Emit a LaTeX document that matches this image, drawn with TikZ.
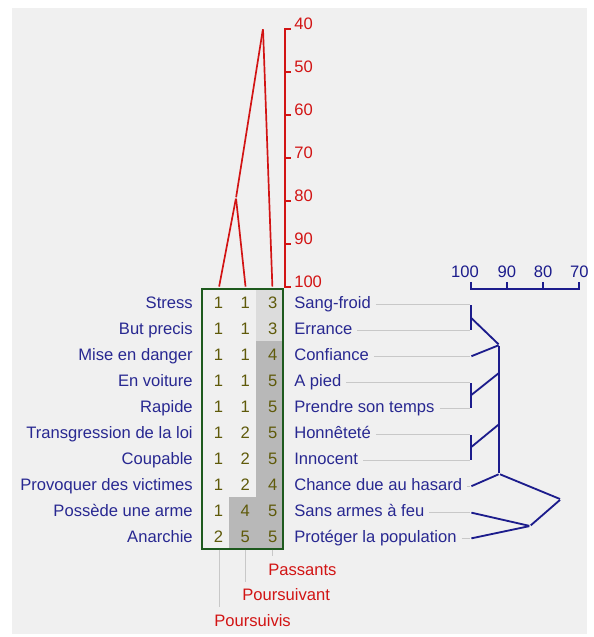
\documentclass[tikz,border=0pt]{standalone}
\usepackage{fontspec}
\setmainfont{Liberation Sans}
\usepackage{tikz}
\pgfdeclarelayer{bglayer}
\pgfdeclarelayer{nodelayer}
\pgfdeclarelayer{edgelayer}
\pgfsetlayers{bglayer,edgelayer,nodelayer,main}
\definecolor{panelgrey}{RGB}{240,240,240}
\definecolor{guidegrey}{RGB}{200,200,200}
\definecolor{cellsoft}{RGB}{220,220,220}
\definecolor{celldark}{RGB}{184,184,184}
\definecolor{navytext}{RGB}{40,40,145}
\definecolor{treeblue}{RGB}{28,28,140}
\definecolor{treered}{RGB}{210,20,20}
\definecolor{scoretext}{RGB}{95,90,10}
\definecolor{boxgreen}{RGB}{30,90,30}
\tikzstyle{none}=[inner sep=0pt, outer sep=0pt]
\tikzstyle{base text}=[font=\fontsize{11.8}{14}\selectfont, inner sep=0pt, text height=0.3cm, text depth=0.09cm]
\tikzstyle{left label}=[base text, text=navytext, anchor=east]
\tikzstyle{right label}=[base text, text=navytext, anchor=west]
\tikzstyle{group label}=[base text, text=treered, anchor=west]
\tikzstyle{score}=[base text, text=scoretext]
\tikzstyle{red scale}=[font=\fontsize{11.8}{14}\selectfont, inner sep=0pt, text=treered, anchor=base west]
\tikzstyle{blue scale}=[font=\fontsize{11.8}{14}\selectfont, inner sep=0pt, text=treeblue, anchor=base]
\tikzstyle{leader}=[draw=guidegrey, line width=0.6pt, shorten <=0.12cm]
\tikzstyle{guide}=[draw=guidegrey, line width=0.6pt]
\tikzstyle{red edge}=[draw=treered, line width=1.2pt]
\tikzstyle{blue edge}=[draw=treeblue, line width=1.3pt]
\tikzstyle{grid box}=[draw=boxgreen, line width=1.4pt]

\begin{document}
\begin{tikzpicture}
	\useasboundingbox (0, 0) rectangle (14.85, 15.925);
	\begin{pgfonlayer}{bglayer}
		\fill [panelgrey] (0.3, 0.075) rectangle (14.667, 15.725);
		\fill [cellsoft] (6.4, 8.7) rectangle (7.05, 7.4);
		\fill [celldark] (6.4, 7.4) rectangle (7.05, 2.2);
		\fill [celldark] (5.725, 3.5) rectangle (6.4, 2.2);
	\end{pgfonlayer}
	\begin{pgfonlayer}{nodelayer}
		% row names, left
		\node [style=left label] (0) at (4.825, 8.3125) {Stress};
		\node [style=left label] (1) at (4.825, 7.6625) {But precis};
		\node [style=left label] (2) at (4.825, 7.0125) {Mise en danger};
		\node [style=left label] (3) at (4.825, 6.3625) {En voiture};
		\node [style=left label] (4) at (4.825, 5.7125) {Rapide};
		\node [style=left label] (5) at (4.825, 5.0625) {Transgression de la loi};
		\node [style=left label] (6) at (4.825, 4.4125) {Coupable};
		\node [style=left label] (7) at (4.825, 3.7625) {Provoquer des victimes};
		\node [style=left label] (8) at (4.825, 3.1125) {Possède une arme};
		\node [style=left label] (9) at (4.825, 2.4625) {Anarchie};
		% row names, right
		\node [style=right label] (10) at (7.35, 8.3125) {Sang-froid};
		\node [style=right label] (11) at (7.35, 7.6625) {Errance};
		\node [style=right label] (12) at (7.35, 7.0125) {Confiance};
		\node [style=right label] (13) at (7.35, 6.3625) {A pied};
		\node [style=right label] (14) at (7.35, 5.7125) {Prendre son temps};
		\node [style=right label] (15) at (7.35, 5.0625) {Honnêteté};
		\node [style=right label] (16) at (7.35, 4.4125) {Innocent};
		\node [style=right label] (17) at (7.35, 3.7625) {Chance due au hasard};
		\node [style=right label] (18) at (7.35, 3.1125) {Sans armes à feu};
		\node [style=right label] (19) at (7.35, 2.4625) {Protéger la population};
		\node [style=none] (20) at (11.7675, 8.3125) {};
		\node [style=none] (21) at (11.7675, 7.6625) {};
		\node [style=none] (22) at (11.7675, 7.0125) {};
		\node [style=none] (23) at (11.7675, 6.3625) {};
		\node [style=none] (24) at (11.7675, 5.7125) {};
		\node [style=none] (25) at (11.7675, 5.0625) {};
		\node [style=none] (26) at (11.7675, 4.4125) {};
		\node [style=none] (27) at (11.7675, 3.7625) {};
		\node [style=none] (28) at (11.7675, 3.1125) {};
		\node [style=none] (29) at (11.7675, 2.4625) {};
		% scores
		\node [style=score] (30) at (5.46, 8.3125) {1};
		\node [style=score] (31) at (6.13, 8.3125) {1};
		\node [style=score] (32) at (6.82, 8.3125) {3};
		\node [style=score] (33) at (5.46, 7.6625) {1};
		\node [style=score] (34) at (6.13, 7.6625) {1};
		\node [style=score] (35) at (6.82, 7.6625) {3};
		\node [style=score] (36) at (5.46, 7.0125) {1};
		\node [style=score] (37) at (6.13, 7.0125) {1};
		\node [style=score] (38) at (6.82, 7.0125) {4};
		\node [style=score] (39) at (5.46, 6.3625) {1};
		\node [style=score] (40) at (6.13, 6.3625) {1};
		\node [style=score] (41) at (6.82, 6.3625) {5};
		\node [style=score] (42) at (5.46, 5.7125) {1};
		\node [style=score] (43) at (6.13, 5.7125) {1};
		\node [style=score] (44) at (6.82, 5.7125) {5};
		\node [style=score] (45) at (5.46, 5.0625) {1};
		\node [style=score] (46) at (6.13, 5.0625) {2};
		\node [style=score] (47) at (6.82, 5.0625) {5};
		\node [style=score] (48) at (5.46, 4.4125) {1};
		\node [style=score] (49) at (6.13, 4.4125) {2};
		\node [style=score] (50) at (6.82, 4.4125) {5};
		\node [style=score] (51) at (5.46, 3.7625) {1};
		\node [style=score] (52) at (6.13, 3.7625) {2};
		\node [style=score] (53) at (6.82, 3.7625) {4};
		\node [style=score] (54) at (5.46, 3.1125) {1};
		\node [style=score] (55) at (6.13, 3.1125) {4};
		\node [style=score] (56) at (6.82, 3.1125) {5};
		\node [style=score] (57) at (5.46, 2.4625) {2};
		\node [style=score] (58) at (6.13, 2.4625) {5};
		\node [style=score] (59) at (6.82, 2.4625) {5};
		% red scale
		\node [style=red scale] (60) at (7.35, 15.1925) {40};
		\node [style=red scale] (61) at (7.35, 14.1175) {50};
		\node [style=red scale] (62) at (7.35, 13.0425) {60};
		\node [style=red scale] (63) at (7.35, 11.9675) {70};
		\node [style=red scale] (64) at (7.35, 10.8925) {80};
		\node [style=red scale] (65) at (7.35, 9.8175) {90};
		\node [style=red scale] (66) at (7.35, 8.7425) {100};
		\node [style=none] (67) at (5.475, 8.7425) {};
		\node [style=none] (68) at (6.14, 8.7425) {};
		\node [style=none] (69) at (6.81, 8.7425) {};
		\node [style=none] (70) at (5.9, 10.975) {};
		\node [style=none] (71) at (6.575, 15.21) {};
		% blue tree
		\node [style=none] (72) at (11.7675, 7.9875) {};
		\node [style=none] (73) at (12.4825, 7.3) {};
		\node [style=none] (74) at (11.7675, 6.0375) {};
		\node [style=none] (75) at (12.4825, 6.6075) {};
		\node [style=none] (76) at (11.7675, 4.7375) {};
		\node [style=none] (77) at (12.4825, 5.325) {};
		\node [style=none] (78) at (12.4825, 4.075) {};
		\node [style=none] (79) at (14.0175, 3.4425) {};
		\node [style=none] (80) at (13.25, 2.775) {};
		\node [style=blue scale] (81) at (11.625, 8.975) {100};
		\node [style=blue scale] (82) at (12.6725, 8.975) {90};
		\node [style=blue scale] (83) at (13.5775, 8.975) {80};
		\node [style=blue scale] (84) at (14.4825, 8.975) {70};
		% column names
		\node [style=group label] (85) at (6.7, 1.63) {Passants};
		\node [style=group label] (86) at (6.05, 1.005) {Poursuivant};
		\node [style=group label] (87) at (5.35, 0.38) {Poursuivis};
		\node [style=none] (88) at (6.81, 2.2) {};
		\node [style=none] (89) at (6.81, 2.0) {};
		\node [style=none] (90) at (6.14, 2.2) {};
		\node [style=none] (91) at (6.14, 1.35) {};
		\node [style=none] (92) at (5.475, 2.2) {};
		\node [style=none] (93) at (5.475, 0.725) {};
	\end{pgfonlayer}
	\begin{pgfonlayer}{edgelayer}
		\draw [style=grid box] (5.05, 8.7) rectangle (7.0675, 2.2);
		\draw [style=leader] (10) to (20);
		\draw [style=leader] (11) to (21);
		\draw [style=leader] (12) to (22);
		\draw [style=leader] (13) to (23);
		\draw [style=leader] (14) to (24);
		\draw [style=leader] (15) to (25);
		\draw [style=leader] (16) to (26);
		\draw [style=leader] (17) to (27);
		\draw [style=leader] (18) to (28);
		\draw [style=leader] (19) to (29);
		\draw [style=guide] (88) to (89);
		\draw [style=guide] (90) to (91);
		\draw [style=guide] (92) to (93);
		% red axis
		\draw [style=red edge] (7.27, 15.1925) -- (7.125, 15.1925) -- (7.125, 8.7425) -- (7.27, 8.7425);
		\draw [style=red edge] (7.125, 14.1175) -- (7.27, 14.1175);
		\draw [style=red edge] (7.125, 13.0425) -- (7.27, 13.0425);
		\draw [style=red edge] (7.125, 11.9675) -- (7.27, 11.9675);
		\draw [style=red edge] (7.125, 10.8925) -- (7.27, 10.8925);
		\draw [style=red edge] (7.125, 9.8175) -- (7.27, 9.8175);
		\draw [style=red edge] (67) to (70);
		\draw [style=red edge] (68) to (70);
		\draw [style=red edge] (70) to (71);
		\draw [style=red edge] (69) to (71);
		% blue axis
		\draw [style=blue edge] (11.7675, 8.875) -- (11.7675, 8.7) -- (14.4825, 8.7) -- (14.4825, 8.875);
		\draw [style=blue edge] (12.6725, 8.7) -- (12.6725, 8.875);
		\draw [style=blue edge] (13.5775, 8.7) -- (13.5775, 8.875);
		\draw [style=blue edge] (20) to (21);
		\draw [style=blue edge] (72) to (73);
		\draw [style=blue edge] (22) to (73);
		\draw [style=blue edge] (73) to (78);
		\draw [style=blue edge] (23) to (24);
		\draw [style=blue edge] (74) to (75);
		\draw [style=blue edge] (25) to (26);
		\draw [style=blue edge] (76) to (77);
		\draw [style=blue edge] (27) to (78);
		\draw [style=blue edge] (78) to (79);
		\draw [style=blue edge] (28) to (80);
		\draw [style=blue edge] (29) to (80);
		\draw [style=blue edge] (80) to (79);
	\end{pgfonlayer}
\end{tikzpicture}
\end{document}
